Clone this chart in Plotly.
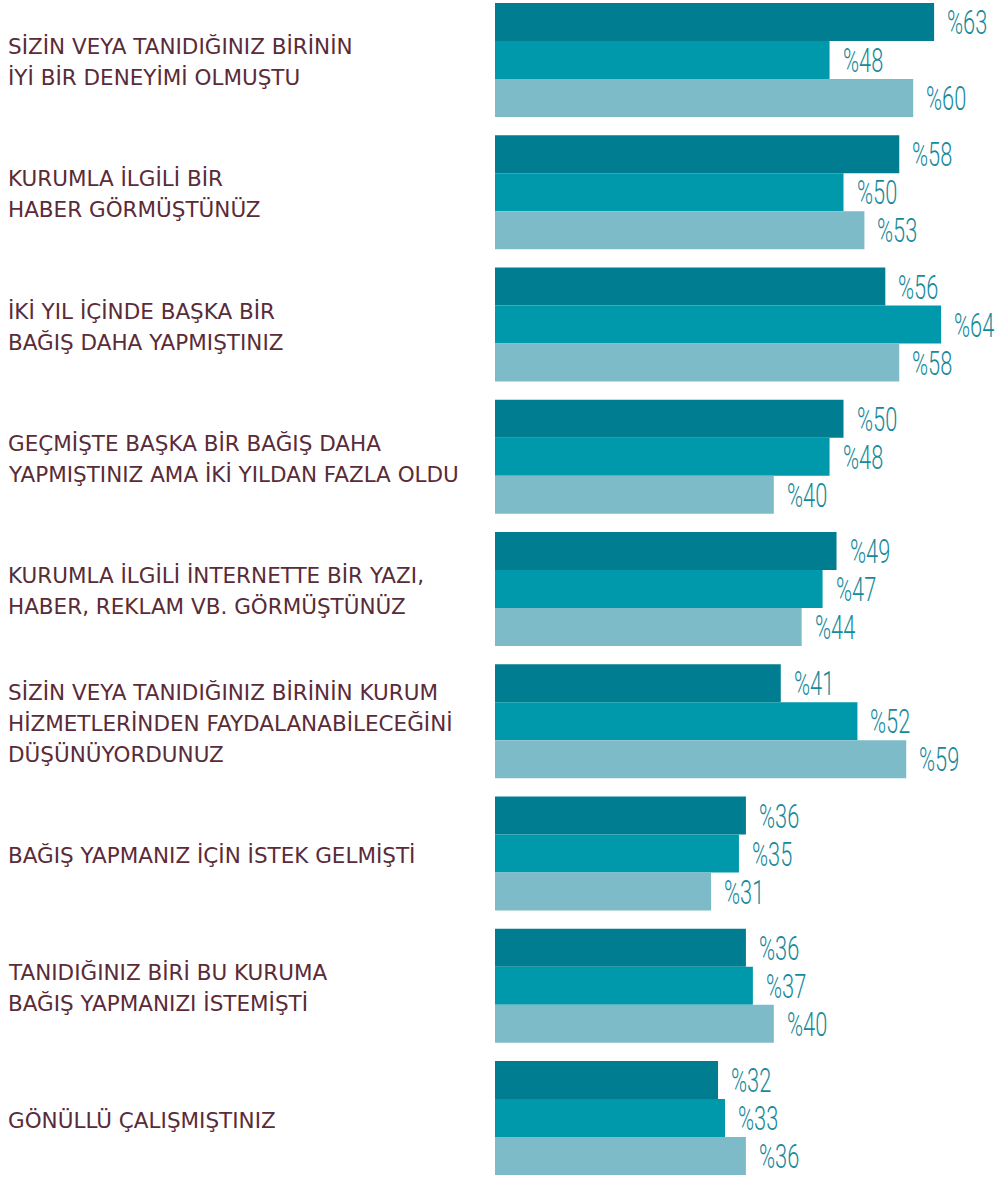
import plotly.graph_objects as go

# Survey reasons (each label split into its printed lines)
categories = [
    ["SİZİN VEYA TANIDIĞINIZ BİRİNİN", "İYİ BİR DENEYİMİ OLMUŞTU"],
    ["KURUMLA İLGİLİ BİR", "HABER GÖRMÜŞTÜNÜZ"],
    ["İKİ YIL İÇİNDE BAŞKA BİR", "BAĞIŞ DAHA YAPMIŞTINIZ"],
    ["GEÇMİŞTE BAŞKA BİR BAĞIŞ DAHA", "YAPMIŞTINIZ AMA İKİ YILDAN FAZLA OLDU"],
    ["KURUMLA İLGİLİ İNTERNETTE BİR YAZI,", "HABER, REKLAM VB. GÖRMÜŞTÜNÜZ"],
    ["SİZİN VEYA TANIDIĞINIZ BİRİNİN KURUM", "HİZMETLERİNDEN FAYDALANABİLECEĞİNİ", "DÜŞÜNÜYORDUNUZ"],
    ["BAĞIŞ YAPMANIZ İÇİN İSTEK GELMİŞTİ"],
    ["TANIDIĞINIZ BİRİ BU KURUMA", "BAĞIŞ YAPMANIZI İSTEMİŞTİ"],
    ["GÖNÜLLÜ ÇALIŞMIŞTINIZ"],
]

series_a = [63, 58, 56, 50, 49, 41, 36, 36, 32]
series_b = [48, 50, 64, 48, 47, 52, 35, 37, 33]
series_c = [60, 53, 58, 40, 44, 59, 31, 40, 36]

colors = ["#007d90", "#0099ab", "#7dbbc8"]
label_color = "#5a2b38"
value_color = "#16899b"

positions = list(range(len(categories)))
bargap = 0.138

fig = go.Figure()
for vals, col in zip([series_a, series_b, series_c], colors):
    fig.add_trace(go.Bar(
        x=vals, y=positions, orientation="h",
        marker=dict(color=col, line=dict(width=0)),
        hoverinfo="skip", showlegend=False,
    ))

annotations = []
# value labels after each bar
offsets = [-1 / 3, 0, 1 / 3]
for vals, off in zip([series_a, series_b, series_c], offsets):
    for i, v in enumerate(vals):
        annotations.append(dict(
            x=v, y=i + off * (1 - bargap), xref="x", yref="y",
            text=f"%{v}", showarrow=False, xanchor="left", yanchor="middle",
            xshift=11,
            font=dict(family="Roboto, sans-serif", size=34, weight=300,
                      color=value_color),
        ))

# category labels on the left, one annotation per line
line_gap = 31
for i, lines in enumerate(categories):
    n = len(lines)
    for k, line in enumerate(lines):
        annotations.append(dict(
            x=-0.979, y=i, xref="paper", yref="y",
            text=line, showarrow=False, xanchor="left", yanchor="middle",
            yshift=((n - 1) / 2 - k) * line_gap - 2,
            font=dict(family="DejaVu Sans, sans-serif", size=21.5, color=label_color),
        ))

px_per_group = 132.25
fig.update_layout(
    width=995, height=1177,
    margin=dict(l=495, r=0, t=0, b=0),
    paper_bgcolor="white", plot_bgcolor="white",
    barmode="group", bargap=bargap, bargroupgap=0,
    xaxis=dict(range=[0, 500 / 6.97], visible=False, fixedrange=True),
    yaxis=dict(range=[(1177 - 60) / px_per_group, -60 / px_per_group],
               visible=False, fixedrange=True),
    annotations=annotations,
)

# narrow the percentage labels horizontally, anchored at their left edge
condense_js = """
var gd = document.getElementById('{plot_id}');
gd.querySelectorAll('g.annotation text.annotation-text').forEach(function (t) {
  if (t.textContent.charAt(0) !== '%') return;
  var x0 = t.getBBox().x;
  t.setAttribute('transform',
    'translate(' + x0 + ',0) scale(0.64,1) translate(' + (-x0) + ',0)');
});
"""

fig.write_html("out.html", post_script=condense_js)
